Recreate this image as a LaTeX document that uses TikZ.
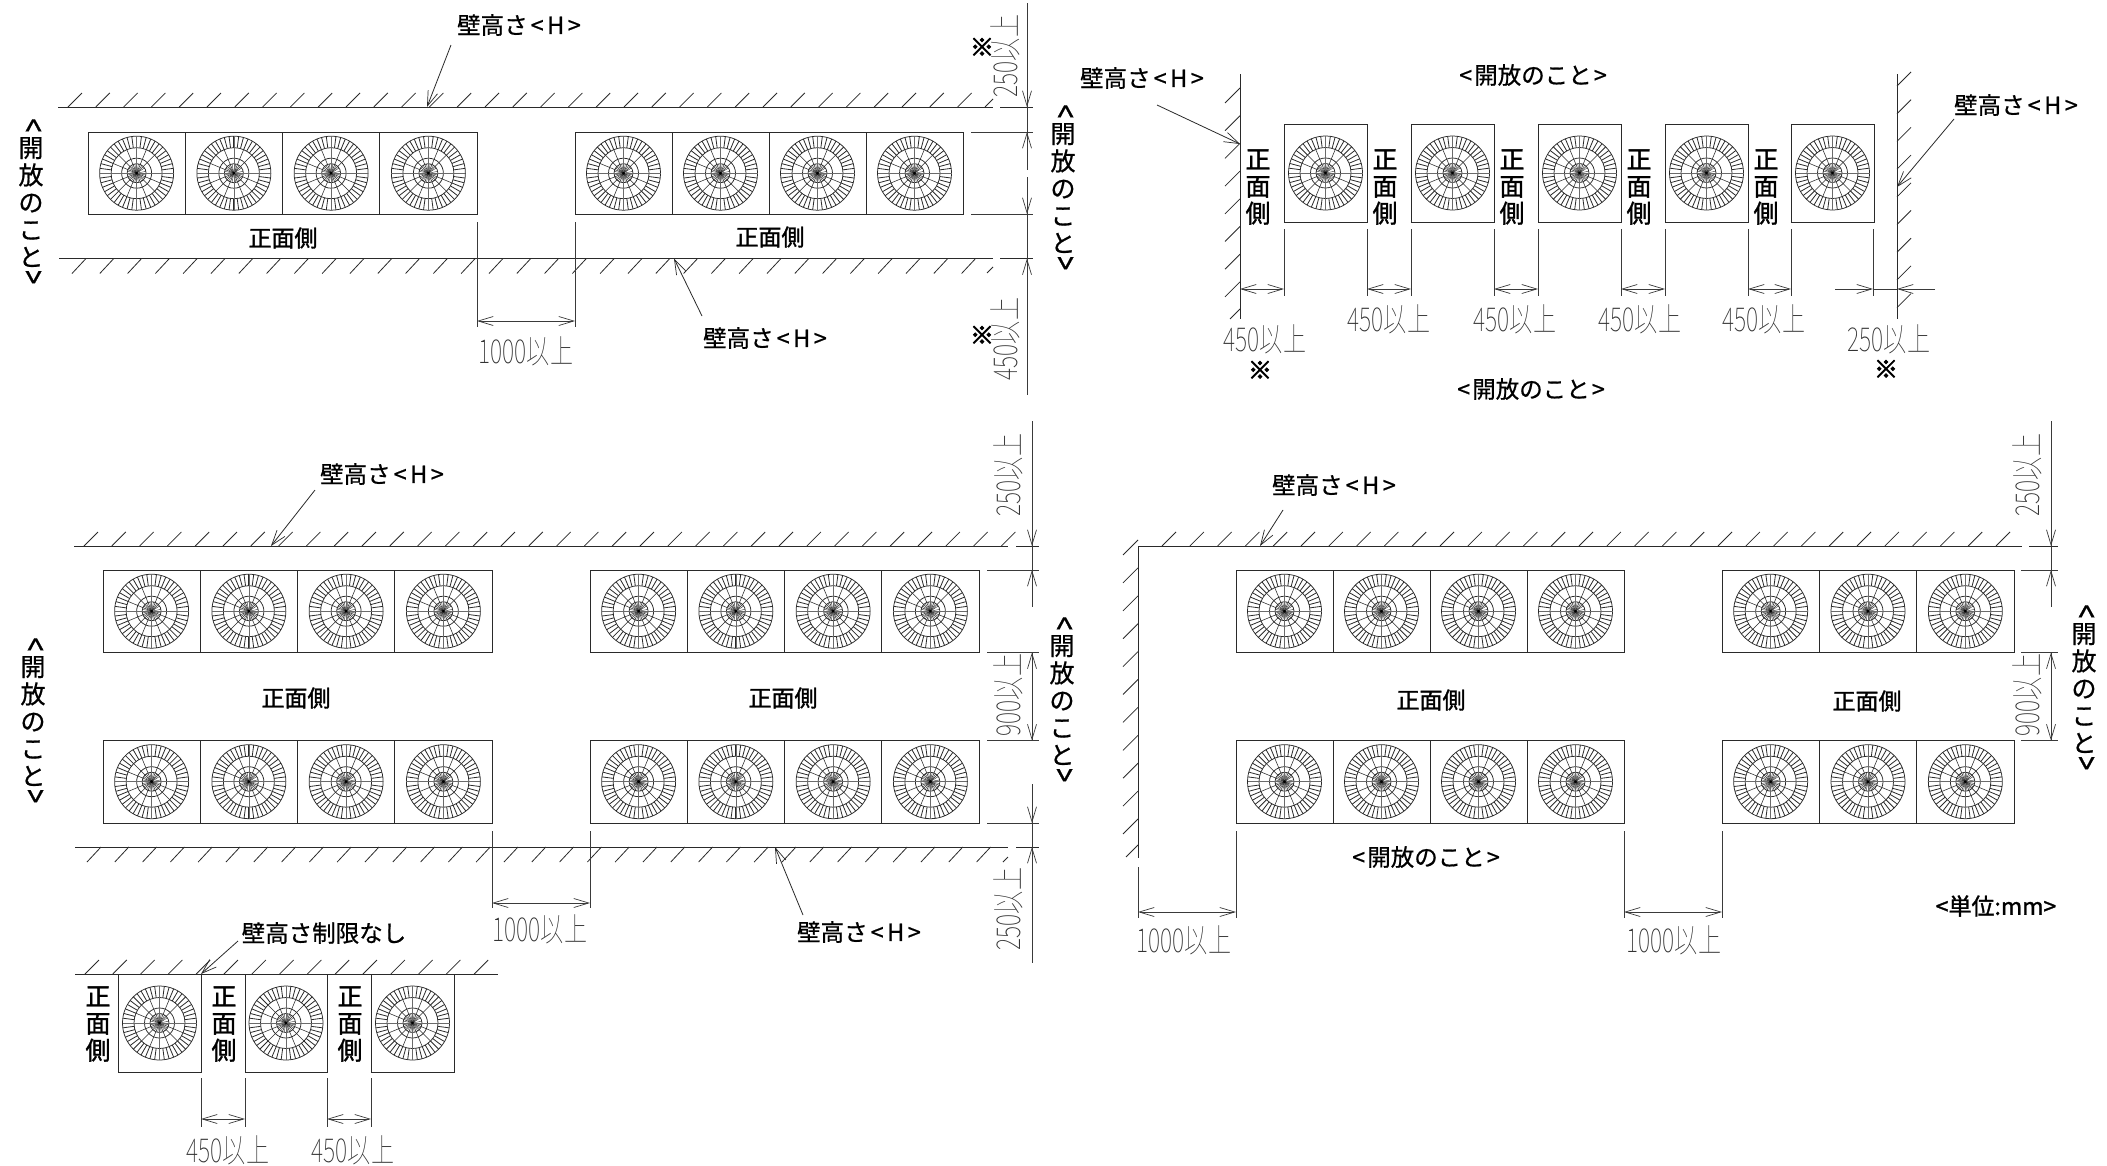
\documentclass[tikz,border=0pt]{standalone}
\usepackage{fontspec}
\usetikzlibrary{arrows.meta}
\newfontfamily\lblfont[FakeBold=0.7]{Noto Sans CJK JP}
\newfontfamily\boldlbl[FakeBold=1.4]{Noto Sans CJK JP}
\newfontfamily\markfont[FakeBold=3.5]{Noto Sans CJK JP}
\newfontfamily\dimfont[FakeStretch=0.70,UprightFont=* Thin]{Noto Sans CJK JP}
\definecolor{ink}{HTML}{2A2A2A}
\definecolor{dimc}{HTML}{3A3A3A}
\definecolor{dimt}{HTML}{333333}
\tikzset{
  x=1pt,y=-1pt,
  wallline/.style={draw=ink,line width=.9pt},
  hatch/.style={draw=ink,line width=.8pt},
  boxline/.style={draw=ink,line width=.9pt},
  extline/.style={draw=dimc,line width=.8pt},
  dimline/.style={draw=dimc,line width=.8pt},
  dimdbl/.style={dimline,{Straight Barb[length=15pt,width=9pt,line width=.7pt]}-{Straight Barb[length=15pt,width=9pt,line width=.7pt]}},
  dimarr/.style={dimline,-{Straight Barb[length=15pt,width=9pt,line width=.7pt]}},
  leader/.style={draw=ink,line width=.8pt,-{Straight Barb[length=15pt,width=10pt,line width=.7pt]}},
  lbl/.style={font=\lblfont\fontsize{23.5}{23.5}\selectfont,text=black,inner sep=0pt},
  unitlbl/.style={font=\boldlbl\fontsize{23}{23}\selectfont,text=black,inner sep=0pt},
  vlbl/.style={font=\lblfont\fontsize{25}{27.3}\selectfont,text=black,inner sep=0pt,align=center},
  vfront/.style={font=\boldlbl\fontsize{25}{27}\selectfont,text=black,inner sep=0pt,align=center},
  front/.style={font=\boldlbl\fontsize{23}{23}\selectfont,text=black,inner sep=0pt},
  dimh/.style={font=\dimfont\fontsize{33}{33}\selectfont,text=dimt,inner sep=0pt},
  dimv/.style={dimh,rotate=90},
  refmark/.style={font=\markfont\fontsize{24}{24}\selectfont,text=black,inner sep=0pt},
  pics/fan/.style={code={
    \draw[draw=ink,line width=.75pt] (0,0) circle[radius=37] circle[radius=25.5] circle[radius=15] circle[radius=9.5];
    \foreach \ang in {0,7.5,...,353} {\draw[draw=ink,line width=.8pt] (\ang:25.5) -- (\ang:37);}
    \foreach \ang in {0,22.5,...,337} {\draw[draw=ink,line width=.55pt] (\ang:0) -- (\ang:25.5);}
    \foreach \ang in {11.25,33.75,...,350} {\draw[draw=ink,line width=.4pt] (\ang:0) -- (\ang:9.5);}
    \foreach \ang in {0,90,180,270} {\draw[draw=ink!70,line width=.7pt] (0,0) -- (\ang:37);}
    \fill[black] (0,0) circle[radius=1.6];
  }}
}
\newcommand{\hatchtop}[4]{\foreach \i in {0,...,#3} {\draw[hatch] ({#1+#2*\i},#4) -- ++(14,-14);}}
\newcommand{\hatchbot}[4]{\foreach \i in {0,...,#3} {\draw[hatch] ({#1+#2*\i},#4) -- ++(-14,15);}}
\newcommand{\hatchleft}[4]{\foreach \i in {0,...,#3} {\draw[hatch] (#4,{#1+#2*\i}) -- ++(-15,15);}}
\newcommand{\hatchright}[4]{\foreach \i in {0,...,#3} {\draw[hatch] (#4,{#1+#2*\i}) -- ++(14,-14);}}
\newcommand{\fanrow}[4]{% xleft, count-1, pitch, ytop
  \foreach \i in {0,...,#2} {
    \draw[boxline] ({#1+#3*\i},#4) rectangle ({#1+#3*\i+#3},#4+82.5);
    \pic at ({#1+#3*\i+#3/2},{#4+41.2}) {fan};
  }}
\newcommand{\soloface}[3]{% xleft, width, ytop : single unit of height 98
  \draw[boxline] (#1,#3) rectangle ({#1+#2},#3+98);
  \pic at ({#1+#2/2},{#3+49}) {fan};}
\newcommand{\vopen}{\rotatebox[origin=c]{-90}{\scalebox{1}[1.4]{<}}\\[-6pt]開\\放\\の\\こ\\と\\[-6pt]\rotatebox[origin=c]{-90}{\scalebox{1}[1.4]{>}}}
\newcommand{\vfr}{正\\面\\側}
\newcommand{\wallh}{壁高さ\kern3pt<\kern3.5pt{}H\kern3.5pt>}
\newcommand{\hopen}{<\kern2pt{}開放のこと\kern2pt>}
\begin{document}
\begin{tikzpicture}
\useasboundingbox (0,0) rectangle (2107,1165);
\fill[white] (0,0) rectangle (2107,1165);

% ---- Panel A
\draw[wallline] (58,107) -- (993,107) (1000,107) -- (1033,107);
\draw[wallline] (59,258.5) -- (993,258.5) (1000,258.5) -- (1033,258.5);
\hatchtop{68}{27.8}{32}{107}
\draw[hatch] (985,107) -- (993,99);
\hatchbot{86}{27.8}{32}{258.5}
\draw[hatch] (987,273) -- (993,267);
\fanrow{88}{3}{97.25}{132}
\fanrow{575}{3}{97}{132}
\draw[extline] (477,222) -- (477,327) (575,222) -- (575,327);
\draw[extline] (971,132) -- (1033,132) (971,214) -- (1033,214);
\draw[dimdbl] (477,321) -- (575,321);
\draw[dimline] (1027,3) -- (1027,170) (1027,177) -- (1027,395);
\draw[dimarr] (1027,92) -- (1027,107);
\draw[dimarr] (1027,147) -- (1027,132);
\draw[dimarr] (1027,199) -- (1027,214);
\draw[dimarr] (1027,273) -- (1027,258.5);
\node[lbl] (a1) at (519,25) {\wallh};
\coordinate (a1t) at (427,107);
\draw[leader] (451,45) -- (a1t);
\node[lbl] (a2) at (765,338) {\wallh};
\coordinate (a2t) at (674,258.5);
\draw[leader] (702,316) -- (a2t);
\node[front] (af1) at (283,238) {正面側};
\node[front] (af2) at (770,237) {正面側};
\node[vlbl] (ao1) at (31,203) {\vopen};
\node[vlbl] (ao2) at (1063,189) {\vopen};
\node[dimh] (ad1) at (526,351) {1000以上};
\node[dimv] (ad2) at (1005,56) {250以上};
\node[dimv] (ad3) at (1005,339) {450以上};
\node[refmark] (am1) at (982,47) {※};
\node[refmark] (am2) at (982,335) {※};

% ---- Panel B
\draw[wallline] (1240,74) -- (1240,319);
\draw[wallline] (1897,74) -- (1897,319);
\hatchleft{88}{27.7}{7}{1240}
\draw[hatch] (1240,309) -- (1230,319);
\hatchright{86}{27.7}{8}{1897}
\foreach \xx in {1284,1411,1538,1665,1791} {\soloface{\xx}{83}{124}}
\foreach \xx in {1284,1367,1411,1494,1538,1621,1665,1748,1791,1873} {\draw[extline] (\xx,229) -- (\xx,296);}
\draw[dimdbl] (1240,289) -- (1284,289);
\draw[dimdbl] (1367,289) -- (1411,289);
\draw[dimdbl] (1494,289) -- (1538,289);
\draw[dimdbl] (1621,289) -- (1665,289);
\draw[dimdbl] (1748,289) -- (1791,289);
\draw[dimline] (1873,289) -- (1897,289);
\draw[dimarr] (1835,289) -- (1873,289);
\draw[dimarr] (1935,289) -- (1897,289);
\foreach \xx/\nn in {1258/b1,1385/b2,1512/b3,1639/b4,1766/b5} {\node[vfront] (\nn) at (\xx,187) {\vfr};}
\node[dimh] (bd1) at (1265,339) {450以上};
\node[dimh] (bd2) at (1389,319) {450以上};
\node[dimh] (bd3) at (1515,319) {450以上};
\node[dimh] (bd4) at (1640,319) {450以上};
\node[dimh] (bd5) at (1764,319) {450以上};
\node[dimh] (bd6) at (1889,339) {250以上};
\node[refmark] (bm1) at (1260,370) {※};
\node[refmark] (bm2) at (1886,369) {※};
\node[lbl] (bl1) at (1142,78) {\wallh};
\coordinate (bl1t) at (1240,144);
\draw[leader] (1157,105) -- (bl1t);
\node[lbl] (bl2) at (2016,105) {\wallh};
\coordinate (bl2t) at (1897,187);
\draw[leader] (1954,119) -- (bl2t);
\node[lbl] (bo1) at (1533,75) {\hopen};
\node[lbl] (bo2) at (1531,389) {\hopen};

% ---- Panel C
\draw[wallline] (74,546) -- (1008,546) (1016,546) -- (1039,546);
\draw[wallline] (75,847) -- (1008,847) (1016,847) -- (1039,847);
\hatchtop{84}{27.8}{33}{546}
\hatchbot{101}{27.8}{32}{847}
\draw[hatch] (1003,862) -- (1008,857);
\fanrow{103}{3}{97.25}{570}
\fanrow{590}{3}{97.25}{570}
\fanrow{103}{3}{97.25}{740.5}
\fanrow{590}{3}{97.25}{740.5}
\draw[extline] (492,831) -- (492,908) (590,831) -- (590,908);
\draw[dimdbl] (492,903) -- (590,903);
\foreach \yy in {570,652.5,740.5,823} {\draw[extline] (987,\yy) -- (1039,\yy);}
\draw[dimline] (1032,421) -- (1032,607) (1032,652.5) -- (1032,740.5) (1032,784) -- (1032,963);
\draw[dimarr] (1032,531) -- (1032,546);
\draw[dimarr] (1032,585) -- (1032,570);
\draw[dimarr] (1032,667) -- (1032,652.5);
\draw[dimarr] (1032,725) -- (1032,740.5);
\draw[dimarr] (1032,808) -- (1032,823);
\draw[dimarr] (1032,862) -- (1032,847);
\node[lbl] (c1) at (382,474) {\wallh};
\coordinate (c1t) at (271,546);
\draw[leader] (315,490) -- (c1t);
\node[lbl] (c2) at (859,932) {\wallh};
\coordinate (c2t) at (775,847);
\draw[leader] (803,915) -- (c2t);
\node[front] (cf1) at (296,698) {正面側};
\node[front] (cf2) at (783,698) {正面側};
\node[vlbl] (co1) at (33,722) {\vopen};
\node[vlbl] (co2) at (1062,701) {\vopen};
\node[dimh] (cd1) at (540,929) {1000以上};
\node[dimv] (cd2) at (1008,475) {250以上};
\node[dimv] (cd3) at (1008,695) {900以上};
\node[dimv] (cd4) at (1008,909) {250以上};

% ---- Panel D
\draw[wallline] (1138,546) -- (2022,546) (2029,546) -- (2058,546);
\draw[wallline] (1138,546) -- (1138,858);
\draw[extline] (1138,867) -- (1138,918);
\hatchtop{1162}{27.8}{30}{546}
\hatchleft{540}{27.9}{10}{1138}
\draw[hatch] (1138,845) -- (1126,857);
\fanrow{1236}{3}{97}{570}
\fanrow{1722}{2}{97.33}{570}
\fanrow{1236}{3}{97}{740.5}
\fanrow{1722}{2}{97.33}{740.5}
\draw[extline] (1236,831) -- (1236,918) (1624,831) -- (1624,918) (1722,831) -- (1722,918);
\draw[dimdbl] (1138,912) -- (1236,912);
\draw[dimdbl] (1624,912) -- (1722,912);
\foreach \yy in {570,652.5,740.5} {\draw[extline] (2021,\yy) -- (2058,\yy);}
\draw[dimline] (2051,421) -- (2051,607) (2051,652.5) -- (2051,740.5);
\draw[dimarr] (2051,531) -- (2051,546);
\draw[dimarr] (2051,585) -- (2051,570);
\draw[dimarr] (2051,667) -- (2051,652.5);
\draw[dimarr] (2051,725) -- (2051,740.5);
\node[lbl] (d1) at (1334,485) {\wallh};
\coordinate (d1t) at (1260,546);
\draw[leader] (1283,510) -- (d1t);
\node[front] (df1) at (1431,700) {正面側};
\node[front] (df2) at (1867,701) {正面側};
\node[lbl] (do1) at (1426,857) {\hopen};
\node[vlbl] (do2) at (2084,689) {\vopen};
\node[dimh] (dd1) at (1184,940) {1000以上};
\node[dimh] (dd2) at (1674,940) {1000以上};
\node[dimv] (dd3) at (2027,475) {250以上};
\node[dimv] (dd4) at (2027,695) {900以上};
\node[unitlbl] (dunit) at (1996,906) {<単位:mm>};

% ---- Panel E
\draw[wallline] (75,974) -- (498,974);
\hatchtop{85}{27.8}{14}{974}
\foreach \xx/\ww in {118/83,245/82,371/83} {\soloface{\xx}{\ww}{974}}
\foreach \xx/\nn in {98/e1,224/e2,350/e3} {\node[vfront] (\nn) at (\xx,1024) {\vfr};}
\foreach \xx in {201,245,327,371} {\draw[extline] (\xx,1078) -- (\xx,1127);}
\draw[dimdbl] (201,1119) -- (245,1119);
\draw[dimdbl] (327,1119) -- (371,1119);
\node[dimh] (ed1) at (228,1150) {450以上};
\node[dimh] (ed2) at (353,1150) {450以上};
\node[lbl] (el) at (324,933) {壁高さ制限なし};
\coordinate (elt) at (201,974);
\draw[leader] (238,941) -- (elt);
\end{tikzpicture}
\end{document}
